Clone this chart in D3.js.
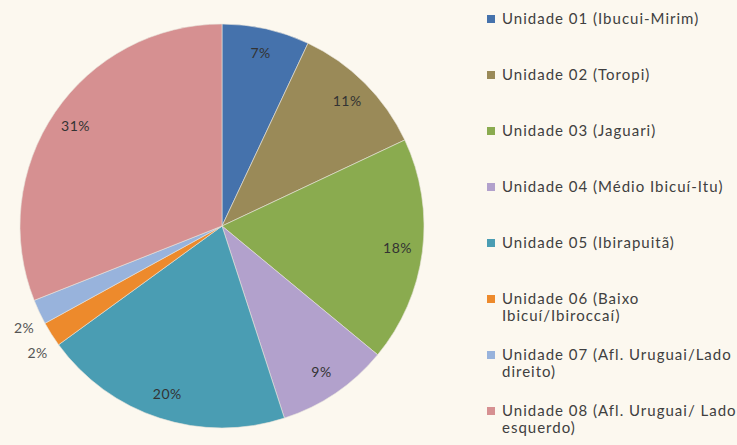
<!DOCTYPE html>
<html>
<head>
<meta charset="utf-8">
<script src="https://cdn.jsdelivr.net/npm/d3@7"></script>
<style>
  body { margin: 0; background: #fcf8ef; }
  text { font-family: Lato, "Open Sans", sans-serif; }
</style>
</head>
<body>
<script>
//chart data
var categories = [
    ["Unidade 01 (Ibucui-Mirim)"],
    ["Unidade 02 (Toropi)"],
    ["Unidade 03 (Jaguari)"],
    ["Unidade 04 (Médio Ibicuí-Itu)"],
    ["Unidade 05 (Ibirapuitã)"],
    ["Unidade 06 (Baixo", "Ibicuí/Ibiroccaí)"],
    ["Unidade 07 (Afl. Uruguai/Lado", "direito)"],
    ["Unidade 08 (Afl. Uruguai/ Lado", "esquerdo)"]
];
var values = [7, 11, 18, 9, 20, 2, 2, 31];
var colors = ["#4572ac", "#9a8a58", "#8aab4f", "#b2a1cc", "#4a9db3", "#ed8a2c", "#98b3dc", "#d69091"];

var w = 737, h = 445;
var cx = 222, cy = 226, r = 202;

var svg = d3.select("body")
    .append("svg")
    .attr("width", w)
    .attr("height", h);

svg.append("rect")
    .attr("width", w)
    .attr("height", h)
    .style("fill", "#fcf8ef");

var pie = d3.pie().sort(null).value(function(d){ return d; });
var arcs = pie(values);

var arc = d3.arc().innerRadius(0).outerRadius(r);
var labelArc = d3.arc().innerRadius(177).outerRadius(177);
var outArc = d3.arc().innerRadius(222).outerRadius(222);

var g = svg.append("g").attr("transform", "translate(" + cx + "," + cy + ")");

g.selectAll("path")
    .data(arcs)
    .enter()
    .append("path")
    .attr("d", arc)
    .style("fill", function(d, i){ return colors[i]; })
    .style("stroke", "#e8e4dc")
    .style("stroke-width", 0.6);

//percent labels, small slices sit outside the pie (nudged down a bit)
g.selectAll(".lbl")
    .data(arcs)
    .enter()
    .append("text")
    .attr("class", "lbl")
    .attr("transform", function(d){
        var c = d.data < 5 ? outArc.centroid(d) : labelArc.centroid(d);
        if (d.data < 5) { c[0] += 3; c[1] += 8; }
        return "translate(" + c + ")";
    })
    .attr("text-anchor", "middle")
    .attr("dy", "0.35em")
    .style("font-size", "14px")
    .style("letter-spacing", "0.5px")
    .style("fill", function(d){ return d.data < 5 ? "#555" : "#333"; })
    .text(function(d){ return d.data + "%"; });

//legend
var legend = svg.append("g");
var item = legend.selectAll("g")
    .data(categories)
    .enter()
    .append("g")
    .attr("transform", function(d, i){ return "translate(487," + (19 + i * 56) + ")"; });

item.append("rect")
    .attr("x", 0)
    .attr("y", -4)
    .attr("width", 8)
    .attr("height", 8)
    .style("fill", function(d, i){ return colors[i]; });

item.append("text")
    .attr("x", 15)
    .attr("dy", "0.35em")
    .style("font-size", "15px")
    .style("letter-spacing", "1px")
    .style("fill", "#404040")
    .selectAll("tspan")
    .data(function(d){ return d; })
    .enter()
    .append("tspan")
    .attr("x", 15)
    .attr("y", function(d, i){ return i * 22; })
    .text(function(d){ return d; });
</script>
</body>
</html>
